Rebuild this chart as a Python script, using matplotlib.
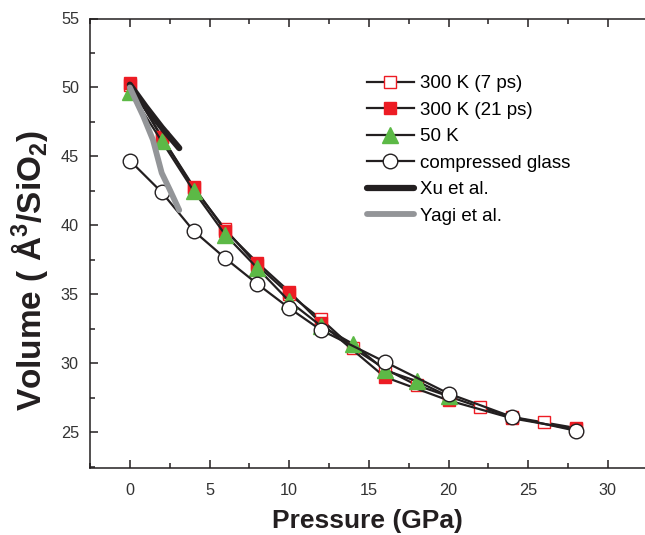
import matplotlib
matplotlib.use("Agg")
import matplotlib.pyplot as plt
from matplotlib.ticker import MultipleLocator

plt.rcParams['font.family'] = ['Liberation Sans', 'DejaVu Sans']
plt.rcParams['mathtext.fontset'] = 'custom'
plt.rcParams['mathtext.rm'] = 'Liberation Sans'
plt.rcParams['mathtext.bf'] = 'Liberation Sans:bold'

# dados
p_7ps = [0, 2, 4, 6, 8, 10, 12, 14, 16, 18, 20, 22, 24, 26, 28]
v_7ps = [50.2, 46.4, 42.7, 39.7, 37.1, 35.0, 33.2, 31.1, 29.6, 28.4, 27.6, 26.8, 26.1, 25.7, 25.3]

p_21ps = [0, 2, 4, 6, 8, 10, 12, 16, 20, 24, 28]
v_21ps = [50.3, 46.4, 42.8, 39.6, 37.3, 35.2, 32.9, 29.0, 27.3, 26.0, 25.2]

p_50k = [0, 2, 4, 6, 8, 10, 12, 14, 16, 18, 20]
v_50k = [49.7, 46.1, 42.5, 39.3, 36.9, 34.5, 32.7, 31.4, 29.5, 28.7, 27.6]

p_vidro = [0, 2, 4, 6, 8, 10, 12, 16, 20, 24, 28]
v_vidro = [44.7, 42.4, 39.6, 37.6, 35.75, 34.0, 32.4, 30.1, 27.8, 26.1, 25.1]

p_xu = [0, 1, 2, 3.1]
v_xu = [50.2, 48.6, 47.1, 45.6]

p_yagi = [0, 0.85, 1.45, 2.0, 2.5, 3.1]
v_yagi = [50.0, 47.9, 46.2, 43.8, 42.6, 41.1]

preto = '#231f20'
vermelho = '#ed1c24'
verde = '#5cb946'
cinza = '#939598'

fig = plt.figure(figsize=(6.45, 5.35), dpi=100)
ax = fig.add_axes([90 / 645, 67 / 535, 555 / 645, 449.5 / 535])

ax.plot(p_7ps, v_7ps, color=preto, lw=1.6, marker='s', ms=8.5, mfc='white',
        mec=vermelho, mew=1.0, label='300 K (7 ps)')
ax.plot(p_21ps, v_21ps, color=preto, lw=1.6, marker='s', ms=8.5, mfc=vermelho,
        mec=vermelho, mew=1.0, label='300 K (21 ps)')
ax.plot(p_50k, v_50k, color=preto, lw=1.6, marker='^', ms=11.5, mfc=verde,
        mec=verde, mew=1.0, label='50 K')
ax.plot(p_vidro, v_vidro, color=preto, lw=1.6, marker='o', ms=10.5, mfc='white',
        mec=preto, mew=1.0, label='compressed glass')
ax.plot(p_xu, v_xu, color=preto, lw=4.5, solid_capstyle='round', label='Xu et al.')
ax.plot(p_yagi, v_yagi, color=cinza, lw=4.2, solid_capstyle='round', label='Yagi et al.')

ax.set_xlim(-2.5, (645 - 130) / 15.93)
ax.set_ylim(22.4, 55)
ax.xaxis.set_major_locator(MultipleLocator(5))
ax.xaxis.set_minor_locator(MultipleLocator(2.5))
ax.yaxis.set_major_locator(MultipleLocator(5))
ax.yaxis.set_minor_locator(MultipleLocator(2.5))

ax.spines['right'].set_visible(False)
for lado in ['left', 'bottom', 'top']:
    ax.spines[lado].set_linewidth(1.1)
    ax.spines[lado].set_color(preto)

ax.tick_params(which='both', direction='in', top=True, right=False,
               width=1.1, color=preto, labelsize=11.7, labelcolor='#333333')
ax.tick_params(which='major', length=6, pad=8)
ax.tick_params(axis='x', which='major', pad=11)
ax.tick_params(which='minor', length=3.5)

ax.set_xlabel('Pressure (GPa)', fontsize=19, fontweight='bold', color=preto, labelpad=8)
ax.set_ylabel(r'Volume ( Å$^{\mathbf{3}}$/SiO$_{\mathbf{2}}$)', fontsize=24,
              fontweight='bold', color=preto)
ax.yaxis.set_label_coords(-0.07, 0.44)

leg = ax.legend(loc='upper left', bbox_to_anchor=(367 / 645, 1 - 75 / 535),
                bbox_transform=fig.transFigure, frameon=False, fontsize=13.5,
                handlelength=2.5, handletextpad=0.35, labelspacing=0.5,
                borderpad=0, borderaxespad=0)

fig.savefig('out.png', dpi=100)
